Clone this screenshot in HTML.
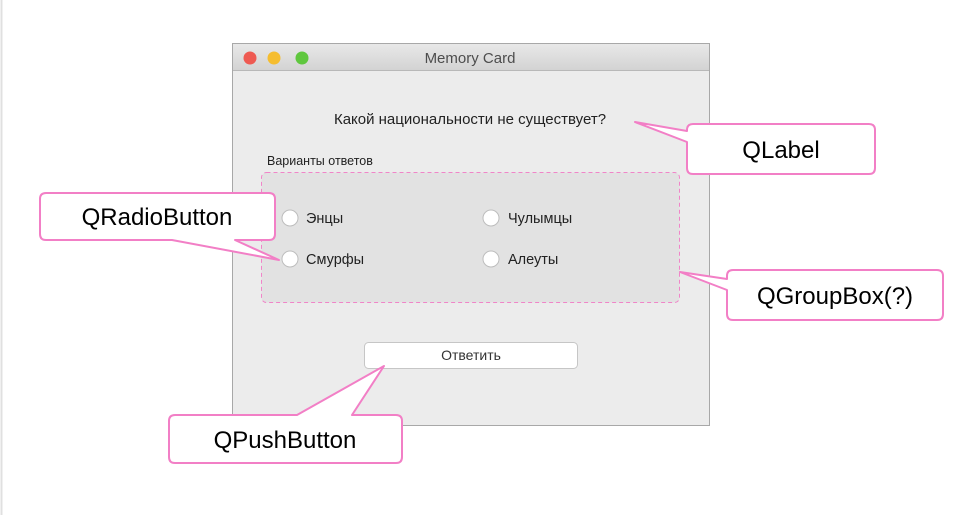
<!DOCTYPE html>
<html><head><meta charset="utf-8"><style>
html,body{margin:0;padding:0;background:#fff;}
svg{display:block}
</style></head><body>
<svg width="966" height="515" viewBox="0 0 966 515" xmlns="http://www.w3.org/2000/svg" font-family="Liberation Sans, DejaVu Sans, sans-serif">
<rect x="0" y="0" width="966" height="515" fill="#fff"/>
<line x1="1.5" y1="0" x2="1.5" y2="515" stroke="#e0e0e0" stroke-width="2"/>
<!-- window -->
<rect x="232.5" y="43.5" width="477" height="382" fill="#ececec" stroke="#a8a8a8"/>
<defs><linearGradient id="tb" x1="0" y1="0" x2="0" y2="1"><stop offset="0" stop-color="#e8e8e8"/><stop offset="1" stop-color="#d3d3d3"/></linearGradient></defs>
<rect x="233" y="44" width="476" height="26" fill="url(#tb)"/>
<line x1="233" y1="70.5" x2="709" y2="70.5" stroke="#b8b8b8"/>
<circle cx="250" cy="58" r="6.5" fill="#ee5a52"/>
<circle cx="274" cy="58" r="6.5" fill="#f5bd2f"/>
<circle cx="302" cy="58" r="6.5" fill="#5fc73e"/>
<text x="470" y="63" font-size="15" fill="#4d4d4d" text-anchor="middle">Memory Card</text>
<text x="470" y="124" font-size="15" fill="#222" text-anchor="middle">Какой национальности не существует?</text>
<text x="267" y="165" font-size="12.5" fill="#222">Варианты ответов</text>
<rect x="261.5" y="172.5" width="418" height="130" rx="5" fill="#e2e2e2" stroke="#f085c8" stroke-dasharray="4,3"/>
<g font-size="14.5" fill="#222">
<circle cx="290" cy="218" r="8" fill="#fff" stroke="#bdbdbd"/><text x="306" y="223">Энцы</text>
<circle cx="491" cy="218" r="8" fill="#fff" stroke="#bdbdbd"/><text x="508" y="223">Чулымцы</text>
<circle cx="290" cy="259" r="8" fill="#fff" stroke="#bdbdbd"/><text x="306" y="264">Смурфы</text>
<circle cx="491" cy="259" r="8" fill="#fff" stroke="#bdbdbd"/><text x="508" y="264">Алеуты</text>
</g>
<rect x="364.5" y="342.5" width="213" height="26" rx="4" fill="#fff" stroke="#c6c6c6"/>
<text x="471" y="360" font-size="14" fill="#333" text-anchor="middle">Ответить</text>
<!-- callouts -->
<g fill="#fff" stroke="#f27fc6" stroke-width="2" stroke-linejoin="round">
<path d="M693 124 H869 Q875 124 875 130 V168 Q875 174 869 174 H693 Q687 174 687 168 V142 L635 122 L687 131 V130 Q687 124 693 124 Z"/>
<path d="M46 193 H269 Q275 193 275 199 V234 Q275 240 269 240 H235 L279 260 L172 240 H46 Q40 240 40 234 V199 Q40 193 46 193 Z"/>
<path d="M733 270 H937 Q943 270 943 276 V314 Q943 320 937 320 H733 Q727 320 727 314 V290 L680 272 L727 279 V276 Q727 270 733 270 Z"/>
<path d="M175 415 H297 L384 366 L352 415 H396 Q402 415 402 421 V457 Q402 463 396 463 H175 Q169 463 169 457 V421 Q169 415 175 415 Z"/>
</g>
<g font-size="24" fill="#000" text-anchor="middle">
<text x="781" y="158">QLabel</text>
<text x="157" y="225">QRadioButton</text>
<text x="835" y="304">QGroupBox(?)</text>
<text x="285" y="448">QPushButton</text>
</g>
</svg>
</body></html>
